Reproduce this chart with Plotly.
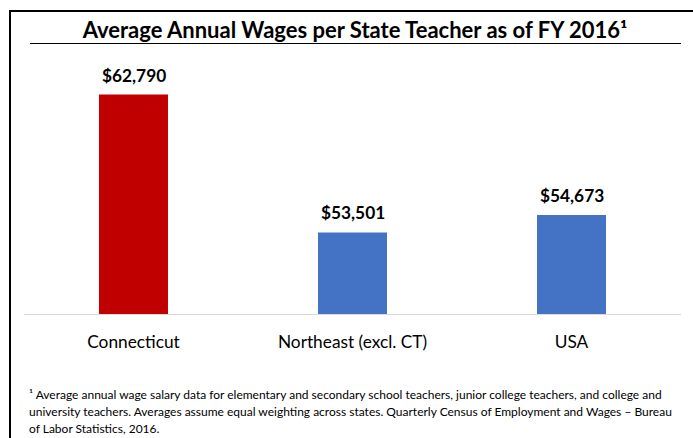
import plotly.graph_objects as go

categories = ["Connecticut", "Northeast (excl. CT)", "USA"]
wages = [62790, 53501, 54673]
bar_colors = ["#c00000", "#4472c4", "#4472c4"]
title_text = "Average Annual Wages per State Teacher as of FY 2016¹"
footnote_lines = [
    "¹ Average annual wage salary data for elementary and secondary school teachers, junior college teachers, and college and",
    "university teachers. Averages assume equal weighting across states. Quarterly Census of Employment and Wages – Bureau",
    "of Labor Statistics, 2016.",
]

W, H = 693, 438
L, R, T, B = 24, 12, 47, 124
PW, PH = W - L - R, H - T - B


def px(x):
    return (x - L) / PW


def py(y):
    return (H - B - y) / PH


FONT = "Lato"

fig = go.Figure()
fig.add_trace(go.Bar(
    x=categories, y=wages, marker=dict(color=bar_colors, line=dict(width=0)),
    width=0.315, hoverinfo="skip",
))

annotations = []
for c, v in zip(categories, wages):
    annotations.append(dict(
        x=c, y=v, xref="x", yref="y", text="<b>${:,}</b>".format(v),
        showarrow=False, yanchor="bottom", yshift=7,
        font=dict(family=FONT, size=17.3, color="#000000"),
    ))

foot_y = [394, 411, 428]
for line, yy in zip(footnote_lines, foot_y):
    annotations.append(dict(
        x=px(27), y=py(yy), xref="paper", yref="paper", text=line,
        showarrow=False, xanchor="left", yanchor="middle",
        font=dict(family=FONT, size=12, color="#000000"),
    ))

shapes = [
    # left border
    dict(type="line", xref="paper", yref="paper", x0=px(10), x1=px(10), y0=py(10), y1=py(440),
         line=dict(color="#000000", width=2)),
    # top border
    dict(type="line", xref="paper", yref="paper", x0=px(9), x1=px(695), y0=py(11), y1=py(11),
         line=dict(color="#000000", width=2)),
    # title underline
    dict(type="line", xref="paper", yref="paper", x0=px(30), x1=px(681), y0=py(43.5), y1=py(43.5),
         line=dict(color="#000000", width=1)),
]

fig.update_layout(
    width=W, height=H, autosize=False,
    margin=dict(l=L, r=R, t=T, b=B, pad=0),
    paper_bgcolor="white", plot_bgcolor="white",
    showlegend=False,
    title=dict(text="<b>" + title_text + "</b>", x=px(355), xref="paper", xanchor="center",
               y=1 - 30 / H, yanchor="middle", yref="container",
               font=dict(family=FONT, size=22, color="#000000")),
    xaxis=dict(showline=True, linecolor="#d9d9d9", linewidth=1, showgrid=False, zeroline=False,
               ticks="", tickfont=dict(family=FONT, size=17.3, color="#000000"), ticklabelstandoff=12,
               fixedrange=True),
    yaxis=dict(visible=False, range=[48000, 66000], showgrid=False, zeroline=False, fixedrange=True),
    annotations=annotations,
    shapes=shapes,
    bargap=0.2,
)

fig.write_html("out.html", config={"displayModeBar": False})

with open("out.html", "r", encoding="utf-8") as f:
    html = f.read()
html = html.replace("<head>", "<head><style>html,body{margin:0;padding:0;}</style>", 1)
with open("out.html", "w", encoding="utf-8") as f:
    f.write(html)
